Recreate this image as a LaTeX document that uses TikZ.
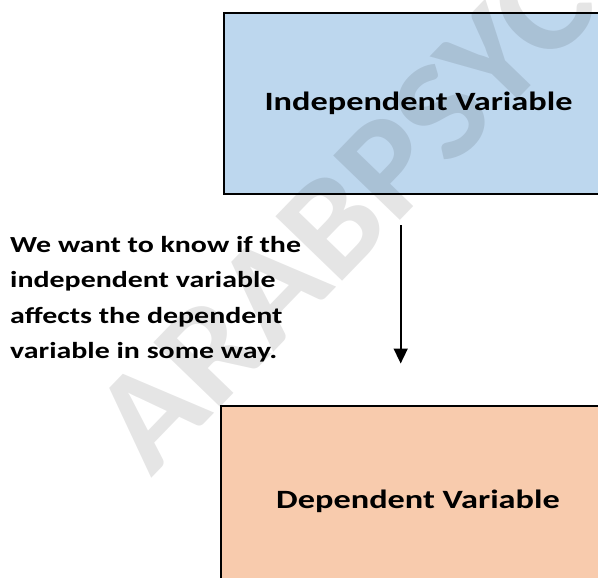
\documentclass[tikz,border=0pt]{standalone}
\usepackage{fontspec}
\setmainfont{Carlito}[FakeStretch=1.3]
\newfontfamily\wmfont{Carlito}[FakeStretch=1.05]
\usetikzlibrary{arrows.meta}
\definecolor{boxblue}{HTML}{BDD7EE}
\definecolor{boxpeach}{HTML}{F8CBAD}
\tikzset{
  varbox/.style={draw=black, line width=2pt, inner sep=0pt, anchor=north west,
    font=\bfseries\fontsize{26.4}{30}\selectfont},
  flowarrow/.style={-{Triangle[length=15pt,width=14pt]}, line width=1.6pt},
  note/.style={inner sep=0pt, anchor=north west, align=left,
    font=\bfseries\fontsize{23}{35.5}\selectfont},
  watermark/.style={inner sep=0pt, anchor=base west, text=black, opacity=0.1,
    font=\wmfont\bfseries\fontsize{143}{143}\selectfont}
}
\begin{document}
\begin{tikzpicture}[x=1pt,y=-1pt]
\useasboundingbox (0,0) rectangle (598,578);
\clip (0,0) rectangle (598,578);
\node[varbox, fill=boxblue, minimum width=390pt, minimum height=180.5pt] (iv) at (222.5,12) {Independent Variable};
\node[varbox, fill=boxpeach, minimum width=394pt, minimum height=190pt] (dv) at (220,405) {Dependent Variable};
\coordinate (a1) at (400.7,225);
\coordinate (a2) at (400.7,363.5);
\draw[flowarrow] (a1) -- (a2);
\node[note] (txt) at (10,236) {We want to know if the\\independent variable\\affects the dependent\\variable in some way.};
\node[watermark, rotate=46] (wm) at (151,479) {ARABPSYCHOLOGY};
\end{tikzpicture}
\end{document}
